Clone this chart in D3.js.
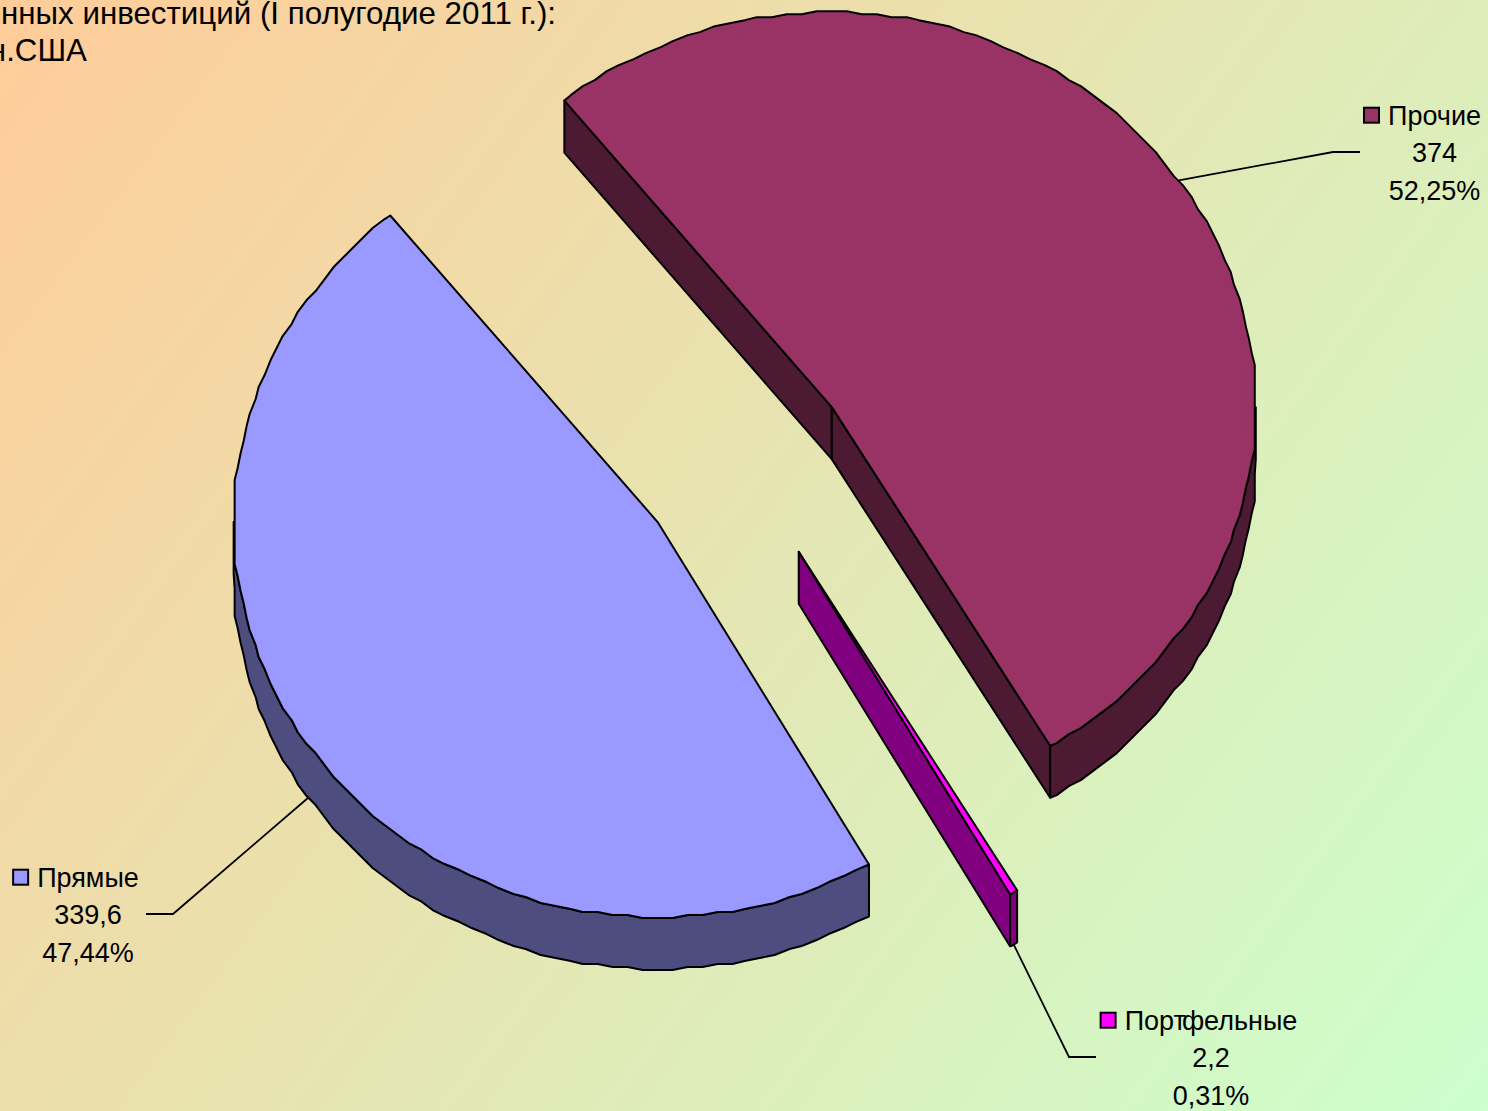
<!DOCTYPE html>
<html lang="ru">
<head>
<meta charset="utf-8">
<title>Структура инвестиций</title>
<script src="https://cdn.jsdelivr.net/npm/d3@7"></script>
<style>
  html, body { margin: 0; padding: 0; overflow: hidden; }
  svg { display: block; }
  text { font-family: "Liberation Sans", Arial, sans-serif; fill: #000; }
</style>
</head>
<body>
<svg id="chart" width="1488" height="1111"></svg>
<script>
// Значения диаграммы
const categories = ['Прочие', 'Портфельные', 'Прямые'];
const values = [374, 2.2, 339.6];
const valueLabels = ['374', '2,2', '339,6'];
const percentLabels = ['52,25%', '0,31%', '47,44%'];
const titleLines = ['нных инвестиций (I полугодие 2011 г.):', 'н.США'];

const topColors = ['#993366', '#ff00ff', '#9999ff'];
const sideColors = ['#4d1a33', '#800080', '#4d4d80'];

// Геометрия «объёмного» круга
const W = 1488, H = 1111;
const CX = 745, CY = 465;
const RX = 424, RY = 395;
const DEPTH = 52;
const EXPLODE_X = 0.25, EXPLODE_Y = 0.255;
const START_DEG = -39.1;
const STEP = 2 * Math.PI / 180;
const GRID = 3; // грубая сетка даёт «дрожащий» край, как в исходном метафайле

// Подписи: позиция текста и точки выноски
const LABEL_LAYOUT = [
  { x: 1434.5, y: 125, elbowX: 1333, endX: 1360, lineY: 152, dx: '' },
  { x: 1211, y: 1030, elbowX: 1069, endX: 1096, lineY: 1057, dx: '0 0 0 0 -4' },
  { x: 88, y: 887, elbowX: 173, endX: 146, lineY: 914, dx: '' }
];
const FONT_SIZE = 27, LINE_H = 37.3, KEY = 15;

const svg = d3.select('#chart');

const grad = svg.append('defs').append('linearGradient')
  .attr('id', 'bg').attr('gradientUnits', 'userSpaceOnUse')
  .attr('x1', 0).attr('y1', 0).attr('x2', W).attr('y2', H);
grad.append('stop').attr('offset', 0).attr('stop-color', '#ffcc99');
grad.append('stop').attr('offset', 1).attr('stop-color', '#ccffcc');
svg.append('rect').attr('width', W).attr('height', H).attr('fill', 'url(#bg)');

const pie = d3.pie().sort(null)
  .startAngle(START_DEG * Math.PI / 180)
  .endAngle((START_DEG + 360) * Math.PI / 180);
const slices = pie(values);

const sx = d3.scaleLinear().domain([-1, 1]).range([-RX, RX]);
const sy = d3.scaleLinear().domain([-1, 1]).range([-RY, RY]);

function rim(a) {
  return [sx(Math.sin(a)), sy(-Math.cos(a))];
}

function apexOf(s) {
  const mid = (s.startAngle + s.endAngle) / 2;
  return [CX + EXPLODE_X * sx(Math.sin(mid)), CY + EXPLODE_Y * sy(-Math.cos(mid))];
}

// Точки дуги берём на общих углах, чтобы грань и стенка совпадали;
// промежуточные округляем до сетки, концы оставляем точными
function arcPoints(a0, a1, apex) {
  const first = Math.ceil(a0 / STEP + 0.01), last = Math.floor(a1 / STEP - 0.01);
  const inner = d3.range(first, last + 1).map(k => {
    const p = rim(k * STEP);
    return [
      apex[0] + Math.round(p[0] / GRID) * GRID,
      apex[1] + Math.round(p[1] / GRID) * GRID
    ];
  });
  const exact = a => {
    const p = rim(a);
    return [apex[0] + p[0], apex[1] + p[1]];
  };
  return [exact(a0)].concat(inner, [exact(a1)]);
}

const line = d3.line();
const g = svg.append('g')
  .attr('stroke', '#000').attr('stroke-width', 2).attr('stroke-linejoin', 'round');

function wall(pts, fill) {
  const lowered = pts.map(p => [p[0], p[1] + DEPTH]).reverse();
  g.append('path').attr('d', line(pts.concat(lowered)) + 'Z').attr('fill', fill);
}

slices.forEach((s, i) => {
  const apex = apexOf(s);
  const side = sideColors[i];
  const startRim = rim(s.startAngle), endRim = rim(s.endAngle);

  // Боковые стенки: только те, что повёрнуты к зрителю
  if (startRim[0] < 0) wall([apex, [apex[0] + startRim[0], apex[1] + startRim[1]]], side);
  if (endRim[0] > 0) wall([apex, [apex[0] + endRim[0], apex[1] + endRim[1]]], side);

  // Внешняя стенка: часть дуги в нижней половине эллипса
  [[Math.PI / 2, 3 * Math.PI / 2], [5 * Math.PI / 2, 7 * Math.PI / 2]].forEach(([lo, hi]) => {
    const a0 = Math.max(s.startAngle, lo), a1 = Math.min(s.endAngle, hi);
    if (a1 > a0) wall(arcPoints(a0, a1, apex), side);
  });

  // Верхняя грань
  g.append('path')
    .attr('d', line([apex].concat(arcPoints(s.startAngle, s.endAngle, apex))) + 'Z')
    .attr('fill', topColors[i]);
});

// Выноски и подписи
slices.forEach((s, i) => {
  const L = LABEL_LAYOUT[i];
  const apex = apexOf(s);
  const mid = (s.startAngle + s.endAngle) / 2;
  const p = rim(mid);
  const lower = Math.cos(mid) < 0;
  const from = [apex[0] + p[0], apex[1] + p[1] + (lower ? DEPTH : 0)];
  svg.append('path')
    .attr('d', line([from, [L.elbowX, L.lineY], [L.endX, L.lineY]]))
    .attr('fill', 'none').attr('stroke', '#000').attr('stroke-width', 1.8);

  const t = svg.append('g').attr('font-size', FONT_SIZE).attr('text-anchor', 'middle');
  const name = t.append('text').attr('x', L.x).attr('y', L.y)
    .attr('dx', L.dx || null).text(categories[i]);
  t.append('text').attr('x', L.x).attr('y', L.y + LINE_H).text(valueLabels[i]);
  t.append('text').attr('x', L.x).attr('y', L.y + 2 * LINE_H).text(percentLabels[i]);

  const left = name.node().getBBox().x;
  svg.append('rect')
    .attr('x', left - 9 - KEY).attr('y', L.y - 17.3).attr('width', KEY).attr('height', KEY)
    .attr('fill', topColors[i]).attr('stroke', '#000').attr('stroke-width', 2);
});

// Заголовок (обрезан краем кадра, как в оригинале)
svg.append('text').attr('x', 556).attr('y', 23.5).attr('text-anchor', 'end')
  .attr('font-size', 31.3).text(titleLines[0]);
svg.append('text').attr('x', 87).attr('y', 60.5).attr('text-anchor', 'end')
  .attr('font-size', 31.3).text(titleLines[1]);
</script>
</body>
</html>
